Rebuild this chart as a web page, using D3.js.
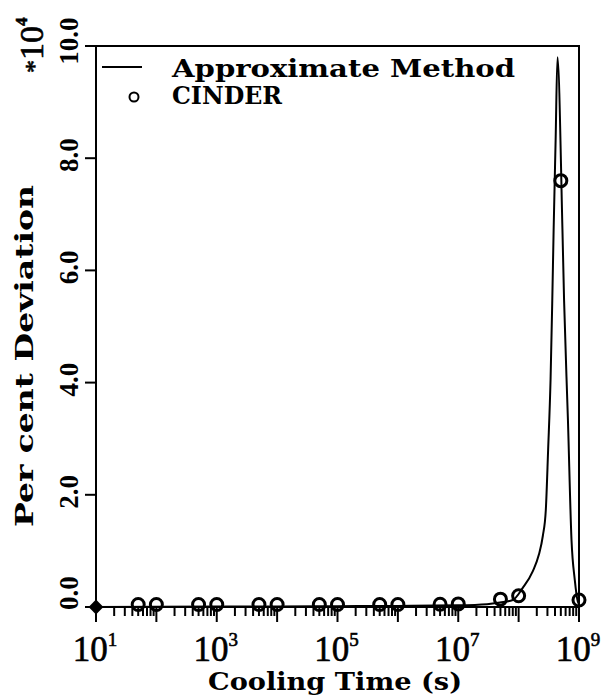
<!DOCTYPE html>
<html>
<head>
<meta charset="utf-8">
<script src="https://cdn.jsdelivr.net/npm/d3@7"></script>
<style>
  html, body { margin: 0; padding: 0; background: #fff; }
  svg { display: block; }
</style>
</head>
<body>
<svg id="chart" width="610" height="700"></svg>
<script>
// Approximate method: per cent deviation versus cooling time (s)
const approxTimes = [1e1, 1e2, 1e3, 1e4, 1e5, 1e6, 1e7, 3e7, 4.9e7, 8.0e7, 1.17e8, 1.72e8, 2.16e8,
  2.52e8, 2.82e8, 3.08e8, 3.38e8, 3.61e8, 3.80e8, 4.10e8, 4.40e8, 5.32e8, 5.66e8, 6.56e8,
  7.51e8, 8.52e8, 9.55e8, 1e9];
const approxDeviation = [0, 50, 80, 100, 150, 200, 300, 500, 800, 1250, 3400, 6400, 9300,
  12700, 17300, 28000, 40500, 54700, 67200, 83200, 98000, 67200, 54700, 33300,
  12000, 4800, 1000, 500];

// CINDER reference calculation
const cinderTimes = [50, 100, 500, 1e3, 5e3, 1e4, 5e4, 1e5, 5e5, 1e6, 5e6, 1e7, 5e7, 1e8, 5e8, 1e9];
const cinderDeviation = [450, 450, 450, 450, 450, 450, 450, 450, 450, 450, 500, 550, 1400, 2000, 76000, 1250];

// Axis ticks
const yTicks = [0, 20000, 40000, 60000, 80000, 100000];
const xLabelExponents = [1, 3, 5, 7, 9];
const yMultiplierExponent = 4;

const legendLabels = ["Approximate Method", "CINDER"];
const xTitle = "Cooling Time (s)";
const yTitle = "Per cent Deviation";

const svg = d3.select("#chart");
const plotLeft = 96, plotRight = 579, plotTop = 46, plotBottom = 607;

const x = d3.scaleLog().domain([1e1, 1e9]).range([plotLeft, plotRight]);
const y = d3.scaleLinear().domain([0, 1e5]).range([plotBottom, plotTop]);

const titleFont = "'DejaVu Serif', serif";
const numFont = "'Liberation Serif', 'Times New Roman', serif";

// minor and decade ticks on the time axis, pointing down; deviation ticks pointing left
const minorTicks = [];
for (let k = 1; k <= 8; k++) for (let m = 2; m <= 9; m++) minorTicks.push(m * Math.pow(10, k));
const decadeTicks = d3.range(1, 10).map(k => Math.pow(10, k));

const tickGroup = svg.append("g").attr("stroke", "#000").attr("stroke-width", 2);
minorTicks.forEach(d => {
  tickGroup.append("line")
    .attr("x1", x(d)).attr("x2", x(d))
    .attr("y1", plotBottom).attr("y2", plotBottom + 9);
});
decadeTicks.forEach(d => {
  tickGroup.append("line")
    .attr("x1", x(d)).attr("x2", x(d))
    .attr("y1", plotBottom).attr("y2", plotBottom + 15);
});
yTicks.forEach(d => {
  tickGroup.append("line")
    .attr("x1", plotLeft - 11).attr("x2", plotLeft)
    .attr("y1", y(d)).attr("y2", y(d));
});

// frame
svg.append("rect")
  .attr("x", plotLeft).attr("y", plotTop)
  .attr("width", plotRight - plotLeft).attr("height", plotBottom - plotTop)
  .attr("fill", "none").attr("stroke", "#000").attr("stroke-width", 2);

// time axis labels: 10 with exponent
xLabelExponents.forEach(e => {
  const t = svg.append("text")
    .attr("x", x(Math.pow(10, e)) - 1).attr("y", 661)
    .attr("text-anchor", "middle")
    .attr("font-family", numFont).attr("font-size", 35).attr("fill", "#000")
    .attr("stroke", "#000").attr("stroke-width", 0.6);
  t.append("tspan").text("10");
  t.append("tspan").attr("dy", -15).attr("font-size", 19).text(e);
});

// deviation axis labels, rotated
yTicks.forEach(v => {
  const off = v === 0 ? -14 : (v === 100000 ? -5 : -3);
  svg.append("text")
    .attr("transform", `translate(78,${y(v) + off}) rotate(-90)`)
    .attr("text-anchor", "middle")
    .attr("font-family", numFont).attr("font-weight", "bold")
    .attr("font-size", 27).attr("fill", "#000")
    .text((v / Math.pow(10, yMultiplierExponent)).toFixed(1));
});

// multiplier *10^4
const mult = svg.append("text")
  .attr("transform", "translate(43,73) rotate(-90)")
  .attr("font-family", numFont).attr("font-size", 34).attr("fill", "#000")
  .attr("stroke", "#000").attr("stroke-width", 0.6);
mult.append("tspan").attr("font-size", 26).text("*");
mult.append("tspan").text("10");
mult.append("tspan").attr("dy", -16).attr("font-size", 17).attr("font-weight", "bold").text(yMultiplierExponent);

// axis titles
svg.append("text")
  .attr("x", 335).attr("y", 690).attr("text-anchor", "middle")
  .attr("font-family", titleFont).attr("font-weight", "bold").attr("font-size", 25)
  .attr("textLength", 254).attr("lengthAdjust", "spacingAndGlyphs")
  .text(xTitle);
svg.append("text")
  .attr("transform", "translate(33,356) rotate(-90)").attr("text-anchor", "middle")
  .attr("font-family", titleFont).attr("font-weight", "bold").attr("font-size", 25)
  .attr("textLength", 342).attr("lengthAdjust", "spacingAndGlyphs")
  .text(yTitle);

// approximate method curve
const approxData = approxTimes.map((t, i) => [t, approxDeviation[i]]);
svg.append("path")
  .datum(approxData)
  .attr("fill", "none").attr("stroke", "#000").attr("stroke-width", 2)
  .attr("stroke-linejoin", "round")
  .attr("d", d3.line().x(d => x(d[0])).y(d => y(d[1])).curve(d3.curveMonotoneX));

// start point of the curve
svg.append("path")
  .attr("d", d3.symbol(d3.symbolSquare, 110)())
  .attr("transform", `translate(${x(approxTimes[0])},${y(approxDeviation[0])}) rotate(45)`)
  .attr("fill", "#000");

// CINDER points
svg.append("g").selectAll("circle")
  .data(cinderTimes.map((t, i) => [t, cinderDeviation[i]]))
  .join("circle")
  .attr("cx", d => x(d[0])).attr("cy", d => y(d[1])).attr("r", 6)
  .attr("fill", "none").attr("stroke", "#000").attr("stroke-width", 3);

// legend
svg.append("line").attr("x1", 102).attr("x2", 142).attr("y1", 67).attr("y2", 67)
  .attr("stroke", "#000").attr("stroke-width", 2);
svg.append("circle").attr("cx", 134).attr("cy", 97).attr("r", 4.5)
  .attr("fill", "none").attr("stroke", "#000").attr("stroke-width", 2);
svg.append("text").attr("x", 172).attr("y", 77)
  .attr("font-family", titleFont).attr("font-weight", "bold").attr("font-size", 25)
  .attr("textLength", 343).attr("lengthAdjust", "spacingAndGlyphs")
  .text(legendLabels[0]);
svg.append("text").attr("x", 172).attr("y", 104)
  .attr("font-family", titleFont).attr("font-weight", "bold").attr("font-size", 25)
  .attr("textLength", 110).attr("lengthAdjust", "spacingAndGlyphs")
  .text(legendLabels[1]);
</script>
</body>
</html>
